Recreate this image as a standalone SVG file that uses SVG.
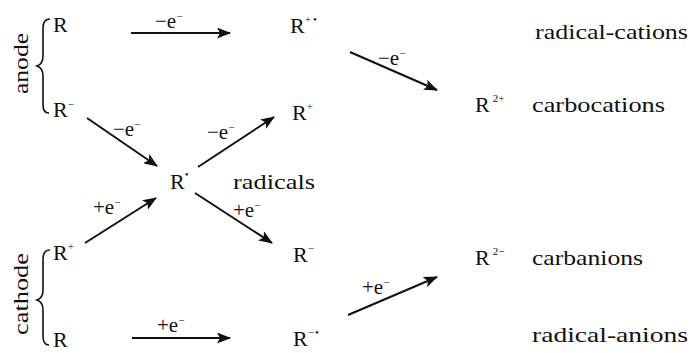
<svg xmlns="http://www.w3.org/2000/svg" width="691" height="353" viewBox="0 0 691 353" font-family="'Liberation Serif', 'DejaVu Serif', serif">
<style>
text, tspan{font-family:'Liberation Serif','DejaVu Serif',serif;fill:#111}
.n{font-size:22px}
.l{font-size:21px}
.s{font-size:11px}
.w{font-size:22px}
line{stroke:#111;stroke-width:2}
.br{fill:none;stroke:#111;stroke-width:1.6}
</style>
<defs>
<marker id="ah" markerUnits="userSpaceOnUse" markerWidth="15" markerHeight="11" refX="13" refY="5.5" orient="auto">
<path d="M0,0 L14,5.5 L0,11 L3,5.5 z" fill="#111"/>
</marker>
</defs>
<g id="anode-label"><text class="w" transform="translate(28,94) rotate(-90)" textLength="61" lengthAdjust="spacingAndGlyphs">anode</text>
<path class="br" d="M50,19 Q43,19 43,28 L43,56 Q43,64 37,66 Q43,68 43,76 L43,105 Q43,113 49,113"/></g>
<g id="cathode-label"><text class="w" transform="translate(28,335) rotate(-90)" textLength="82" lengthAdjust="spacingAndGlyphs">cathode</text>
<path class="br" d="M50,250 Q43,250 43,259 L43,290 Q43,298 37,300 Q43,302 43,310 L43,336 Q43,345 49,345"/></g>
<g id="n-R-top"><text class="n" x="53" y="32">R</text></g>
<g id="n-Rm-anode"><text class="n" x="53" y="117">R<tspan class="s" dy="-9">−</tspan></text></g>
<g id="n-Rpdot"><text class="n" x="290" y="33">R<tspan class="s" dy="-10">+</tspan><tspan class="s" dx="2">•</tspan></text></g>
<g id="n-Rp"><text class="n" x="292" y="120">R<tspan class="s" dy="-10">+</tspan></text></g>
<g id="n-R2p"><text class="n" x="475" y="112">R<tspan class="s" dx="3" dy="-10">2+</tspan></text></g>
<g id="n-Rdot"><text class="n" x="170" y="189">R<tspan class="s" dy="-11">•</tspan></text>
<text class="w" x="233" y="189" textLength="82" lengthAdjust="spacingAndGlyphs">radicals</text></g>
<g id="n-Rp-cath"><text class="n" x="53" y="260">R<tspan class="s" dy="-10">+</tspan></text></g>
<g id="n-Rm"><text class="n" x="293" y="262">R<tspan class="s" dy="-10">−</tspan></text></g>
<g id="n-R2m"><text class="n" x="475" y="265">R<tspan class="s" dx="3" dy="-10">2−</tspan></text></g>
<g id="n-R-bot"><text class="n" x="53" y="347">R</text></g>
<g id="n-Rmdot"><text class="n" x="293" y="346">R<tspan class="s" dy="-10">−</tspan><tspan class="s" dx="1">•</tspan></text></g>
<g id="names">
<text class="w" x="535" y="39" textLength="153" lengthAdjust="spacingAndGlyphs">radical-cations</text>
<text class="w" x="532" y="112" textLength="133" lengthAdjust="spacingAndGlyphs">carbocations</text>
<text class="w" x="532" y="265" textLength="111" lengthAdjust="spacingAndGlyphs">carbanions</text>
<text class="w" x="532" y="342" textLength="156" lengthAdjust="spacingAndGlyphs">radical-anions</text>
</g>
<g id="connectors">
<line x1="131" y1="33" x2="230" y2="33" marker-end="url(#ah)"/>
<line x1="87" y1="118" x2="157" y2="166" marker-end="url(#ah)"/>
<line x1="198" y1="167" x2="274" y2="117" marker-end="url(#ah)"/>
<line x1="350" y1="52" x2="437" y2="90" marker-end="url(#ah)"/>
<line x1="85" y1="243" x2="156" y2="198" marker-end="url(#ah)"/>
<line x1="195" y1="193" x2="272" y2="243" marker-end="url(#ah)"/>
<line x1="132" y1="338" x2="230" y2="338" marker-end="url(#ah)"/>
<line x1="348" y1="315" x2="437" y2="277" marker-end="url(#ah)"/>
</g>
<g id="connector-labels">
<text class="l" x="155" y="28">−e<tspan class="s" dy="-8">−</tspan></text>
<text class="l" x="113" y="136">−e<tspan class="s" dy="-8">−</tspan></text>
<text class="l" x="207" y="139">−e<tspan class="s" dy="-8">−</tspan></text>
<text class="l" x="378" y="65">−e<tspan class="s" dy="-8">−</tspan></text>
<text class="l" x="93" y="214">+e<tspan class="s" dy="-8">−</tspan></text>
<text class="l" x="233" y="217">+e<tspan class="s" dy="-8">−</tspan></text>
<text class="l" x="157" y="332">+e<tspan class="s" dy="-8">−</tspan></text>
<text class="l" x="362" y="294">+e<tspan class="s" dy="-8">−</tspan></text>
</g>
</svg>
